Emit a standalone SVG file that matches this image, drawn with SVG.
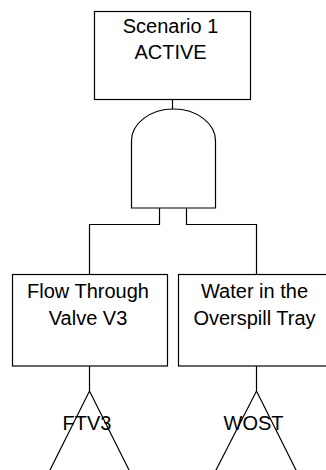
<svg xmlns="http://www.w3.org/2000/svg" width="326" height="470" viewBox="0 0 326 470">
<style>
.box{fill:#fff;stroke:#000;stroke-width:1.2}
.ln{fill:none;stroke:#000;stroke-width:1.2}
.t{font-family:"Liberation Sans",Arial,sans-serif;font-size:20px;fill:#000;text-anchor:middle}
</style>
<rect width="326" height="470" fill="#fff"/>
<g id="connectors">
<path class="ln" d="M172.5,100 V109"/>
<path class="ln" d="M159.5,208 V224.5 H89.5 V274"/>
<path class="ln" d="M186.5,208 V224.5 H256.5 V274"/>
<path class="ln" d="M89.5,366 V391"/>
<path class="ln" d="M256.5,366 V391"/>
</g>
<g id="top-event">
<rect class="box" x="94.5" y="11.5" width="156" height="88"/>
<text class="t" x="170.5" y="33">Scenario 1</text>
<text class="t" x="170.5" y="59">ACTIVE</text>
</g>
<g id="and-gate">
<path class="ln" d="M131.5,208 V141 A42,32 0 0 1 215.5,141 V208 Z"/>
</g>
<g id="ftv3-box">
<rect class="box" x="12.5" y="274.5" width="155" height="91.5"/>
<text class="t" x="88" y="298">Flow Through</text>
<text class="t" x="88" y="325">Valve V3</text>
</g>
<g id="wost-box">
<rect class="box" x="178.5" y="274.5" width="160" height="91.5"/>
<text class="t" x="254.5" y="298">Water in the</text>
<text class="t" x="254.5" y="325">Overspill Tray</text>
</g>
<g id="ftv3">
<path class="ln" d="M49,472 L89.5,391 L130,472"/>
<text class="t" x="87" y="430">FTV3</text>
</g>
<g id="wost">
<path class="ln" d="M215,472 L256.5,391 L297,472"/>
<text class="t" x="253.5" y="430">WOST</text>
</g>
</svg>
